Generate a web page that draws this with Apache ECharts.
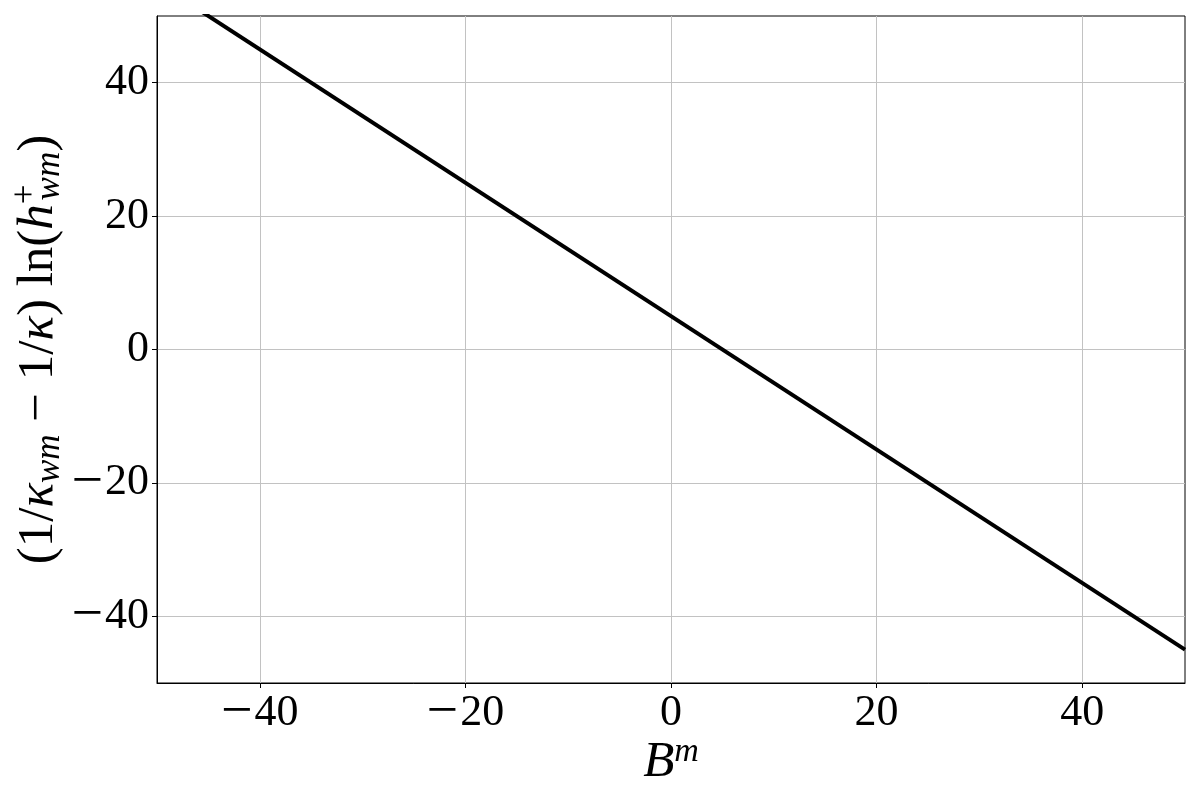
<!DOCTYPE html>
<html><head><meta charset="utf-8">
<script src="https://cdn.jsdelivr.net/npm/echarts@6/dist/echarts.min.js"></script>
<style>html,body{margin:0;padding:0;background:#fff}#c{width:1200px;height:800px}</style>
</head><body><div id="c"></div>
<script>
const xValues = [-50, 50];
const yValues = [55, -45];
const xTicks = [-40, -20, 0, 20, 40];
const yTicks = [-40, -20, 0, 20, 40];

const font = 'Liberation Serif';
const fmt = v => (v < 0 ? '{mi|\u2212}{d|' + Math.abs(v) + '}' : '{d|' + v + '}');
const labelRich = {
  mi: { fontFamily: font, fontSize: 56, lineHeight: 50, color: '#000', padding: [0, 2, 0, 0] },
  d: { fontFamily: font, fontSize: 44, lineHeight: 50, color: '#000' }
};
const nameSize = 51;
const chart = echarts.init(document.getElementById('c'));
chart.setOption({
  animation: false,
  backgroundColor: '#fff',
  grid: { left: 157, right: 15, top: 16, bottom: 117, containLabel: false, outerBoundsMode: 'none',
          show: true, borderColor: '#000', borderWidth: 1, backgroundColor: 'transparent' },
  xAxis: {
    type: 'value', min: -50, max: 50, interval: 10,
    name: '{it|B}{sup|m}', nameLocation: 'middle', nameGap: 52, nameMoveOverlap: false,
    nameTextStyle: { fontFamily: font, fontSize: nameSize, color: '#000',
      rich: { it: { fontFamily: font, fontStyle: 'italic', fontSize: nameSize, color: '#000' },
              sup: { fontFamily: font, fontStyle: 'italic', fontSize: 34, color: '#000', padding: [0,0,22,0] } } },
    axisLine: { show: true, onZero: false, lineStyle: { color: '#000', width: 1 } },
    axisTick: { show: true, length: 5, lineStyle: { color: '#000' }, customValues: xTicks },
    axisLabel: { fontFamily: font, fontSize: 44, lineHeight: 50, color: '#000', margin: 5, customValues: xTicks, formatter: fmt, rich: labelRich },
    splitLine: { show: true, lineStyle: { color: '#c2c2c2', width: 1 } }
  },
  yAxis: {
    type: 'value', min: -50, max: 50, interval: 10,
    name: '(1/{it|κ}{sub|wm} − 1/{it|κ}) ln({it|h}{sup|+}{sub2|wm})',
    nameLocation: 'middle', nameGap: 88, nameRotate: 90, nameMoveOverlap: false,
    nameTextStyle: { fontFamily: font, fontSize: nameSize, color: '#000',
      rich: { it: { fontFamily: font, fontStyle: 'italic', fontSize: nameSize, color: '#000' },
              sub: { fontFamily: font, fontStyle: 'italic', fontSize: 35, color: '#000', padding: [22,0,0,0] },
              sub2: { fontFamily: font, fontStyle: 'italic', fontSize: 35, color: '#000', padding: [22,0,0,-16] },
              sup: { fontFamily: font, fontSize: 35, color: '#000', padding: [0,0,26,0] } } },
    axisLine: { show: true, onZero: false, lineStyle: { color: '#000', width: 1 } },
    axisTick: { show: true, length: 5, lineStyle: { color: '#000' }, customValues: yTicks },
    axisLabel: { fontFamily: font, fontSize: 44, lineHeight: 50, color: '#000', margin: 8, customValues: yTicks, formatter: fmt, rich: labelRich },
    splitLine: { show: true, lineStyle: { color: '#c2c2c2', width: 1 } }
  },
  series: [{
    type: 'line', data: xValues.map((x, i) => [x, yValues[i]]),
    showSymbol: false, clip: true,
    lineStyle: { color: '#000', width: 4 }
  }]
});
</script></body></html>
